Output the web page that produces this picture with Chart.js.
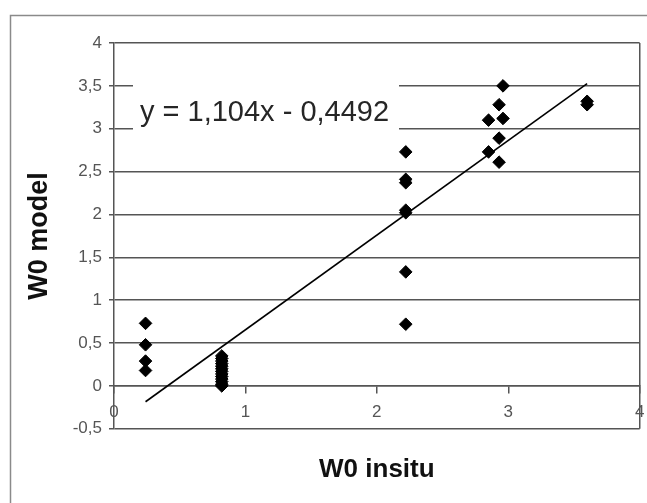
<!DOCTYPE html>
<html>
<head>
<meta charset="utf-8">
<script src="https://cdn.jsdelivr.net/npm/chart.js@4/dist/chart.umd.min.js"></script>
<style>
  html, body { margin: 0; padding: 0; background: #fff; }
  #wrap { position: relative; width: 647px; height: 503px; }
</style>
</head>
<body>
<div id="wrap"><canvas id="c" width="647" height="503"></canvas></div>
<script>
// ---- data ----
const insituX = [
  0.24, 0.24, 0.24, 0.24,
  0.82, 0.82, 0.82, 0.82, 0.82, 0.82, 0.82, 0.82, 0.82, 0.82, 0.82, 0.82, 0.82,
  2.22, 2.22, 2.22, 2.22, 2.22, 2.22, 2.22,
  2.96, 2.93, 2.85, 2.96, 2.93, 2.85, 2.93, 3.60, 3.60
];
const modelY = [
  0.73, 0.48, 0.29, 0.18,
  0.00, 0.02, 0.05, 0.08, 0.11, 0.14, 0.17, 0.20, 0.23, 0.26, 0.29, 0.32, 0.35,
  2.73, 2.41, 2.37, 2.05, 2.02, 1.33, 0.72,
  3.50, 3.28, 3.10, 3.12, 2.89, 2.73, 2.61, 3.28, 3.32
];
const trendSlope = 1.104;
const trendIntercept = -0.4492;
const equationText = 'y = 1,104x - 0,4492';
const xTickLabels = ['0', '1', '2', '3', '4'];
const yTickLabels = ['-0,5', '0', '0,5', '1', '1,5', '2', '2,5', '3', '3,5', '4'];
const xTitle = 'W0 insitu';
const yTitle = 'W0 model';

// ---- build datasets ----
const points = insituX.map((x, i) => ({ x: x, y: modelY[i] }));
const xMin = Math.min(...insituX), xMax = Math.max(...insituX);
const trend = [xMin, xMax].map(x => ({ x: x, y: trendSlope * x + trendIntercept }));

const FONT = "'Liberation Sans', Arial, sans-serif";
const GRID = '#555555';

const framePlugin = {
  id: 'frame',
  beforeDraw(chart) {
    const ctx = chart.ctx;
    ctx.save();
    ctx.strokeStyle = '#8a8a8a';
    ctx.lineWidth = 1.5;
    ctx.beginPath();
    ctx.moveTo(10.5, chart.height);
    ctx.lineTo(10.5, 15.5);
    ctx.lineTo(chart.width, 15.5);
    ctx.stroke();
    ctx.restore();
  }
};

const equationPlugin = {
  id: 'equation',
  afterDraw(chart) {
    const ctx = chart.ctx, a = chart.chartArea;
    ctx.save();
    ctx.fillStyle = '#ffffff';
    ctx.fillRect(a.left + 19, a.top + 38, 266, 50);
    ctx.fillStyle = '#262626';
    ctx.font = '29px ' + FONT;
    ctx.textBaseline = 'alphabetic';
    ctx.textAlign = 'left';
    ctx.fillText(equationText, a.left + 26, a.top + 78);
    ctx.restore();
  }
};

new Chart(document.getElementById('c'), {
  type: 'scatter',
  data: {
    datasets: [
      {
        label: 'trend',
        type: 'line',
        data: trend,
        borderColor: '#000',
        borderWidth: 1.6,
        pointRadius: 0,
        fill: false,
        order: 0
      },
      {
        label: 'W0',
        data: points,
        pointStyle: 'rectRot',
        pointRadius: 6.3,
        pointBackgroundColor: '#000',
        pointBorderColor: '#000',
        pointBorderWidth: 1,
        order: 1
      }
    ]
  },
  options: {
    responsive: false,
    animation: false,
    devicePixelRatio: 1,
    layout: { padding: { left: 0, right: 7, top: 43, bottom: 18 } },
    plugins: {
      legend: { display: false },
      tooltip: { enabled: false },
      title: {
        display: true,
        text: xTitle,
        position: 'bottom',
        fullSize: false,
        color: '#111',
        font: { family: FONT, size: 26, weight: 'bold', lineHeight: 1.2 },
        padding: { top: 25, bottom: 0 }
      }
    },
    scales: {
      x: {
        type: 'linear',
        position: { y: 0 },
        min: 0, max: 4,
        afterFit(scale) { scale.paddingLeft = 0; scale.paddingRight = 0; },
        ticks: {
          stepSize: 1,
          maxRotation: 0,
          autoSkip: false,
          padding: 9,
          color: '#555',
          font: { family: FONT, size: 17 },
          callback: (v) => xTickLabels[Math.round(v)] ?? ''
        },
        grid: {
          drawOnChartArea: true,
          color: (c) => (c.tick && c.tick.value === 4) ? GRID : 'rgba(0,0,0,0)',
          tickColor: GRID,
          tickLength: 7,
          lineWidth: 1.5
        },
        border: { display: true, color: GRID, width: 1.5 }
      },
      y: {
        type: 'linear',
        position: 'left',
        min: -0.5, max: 4,
        afterFit(scale) { scale.width = 114; },
        ticks: {
          stepSize: 0.5,
          autoSkip: false,
          padding: 7,
          color: '#555',
          font: { family: FONT, size: 17 },
          callback: (v) => yTickLabels[Math.round((v + 0.5) * 2)] ?? ''
        },
        grid: {
          color: GRID,
          lineWidth: 1.5,
          tickLength: 5,
          tickColor: GRID
        },
        border: { display: true, color: GRID, width: 1.5 },
        title: {
          display: true,
          text: yTitle,
          color: '#111',
          font: { family: FONT, size: 27, weight: 'bold', lineHeight: 1.2 },
          padding: { top: 23, bottom: 0 }
        }
      }
    }
  },
  plugins: [framePlugin, equationPlugin]
});
</script>
</body>
</html>
